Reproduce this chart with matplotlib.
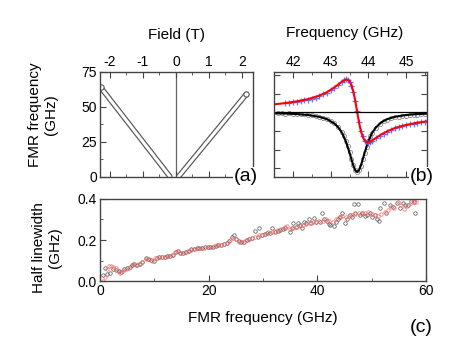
import matplotlib.pyplot as plt
from matplotlib.ticker import MultipleLocator

plt.rcParams['font.family'] = ['Liberation Sans', 'DejaVu Sans']

# ---- (a) FMR frequency vs field ----
field_neg = [-0.18, -0.23, -0.28, -0.33, -0.38, -0.43, -0.48, -0.53, -0.58, -0.63,
             -0.68, -0.73, -0.78, -0.83, -0.88, -0.93, -0.98, -1.03, -1.08, -1.13,
             -1.18, -1.23, -1.28, -1.33, -1.38, -1.43, -1.48, -1.53, -1.58, -1.63,
             -1.68, -1.73, -1.78, -1.83, -1.88, -1.93, -1.98, -2.03, -2.08, -2.13,
             -2.18, -2.23, -2.28]
freq_neg = [0.3, 1.8, 3.3, 4.8, 6.4, 7.9, 9.4, 10.9, 12.4, 13.9,
            15.5, 17.0, 18.5, 20.0, 21.5, 23.0, 24.5, 26.1, 27.6, 29.1,
            30.6, 32.1, 33.6, 35.1, 36.7, 38.2, 39.7, 41.2, 42.7, 44.2,
            45.8, 47.3, 48.8, 50.3, 51.8, 53.3, 54.8, 56.4, 57.9, 59.4,
            60.9, 62.4, 63.9]
field_pos = [0.08, 0.13, 0.18, 0.23, 0.28, 0.33, 0.38, 0.43, 0.48, 0.53,
             0.58, 0.63, 0.68, 0.73, 0.78, 0.83, 0.88, 0.93, 0.98, 1.03,
             1.08, 1.13, 1.18, 1.23, 1.28, 1.33, 1.38, 1.43, 1.48, 1.53,
             1.58, 1.63, 1.68, 1.73, 1.78, 1.83, 1.88, 1.93, 1.98, 2.03,
             2.08, 2.13]
freq_pos = [0.3, 1.7, 3.1, 4.6, 6.0, 7.4, 8.9, 10.3, 11.7, 13.2,
            14.6, 16.0, 17.4, 18.9, 20.3, 21.7, 23.2, 24.6, 26.0, 27.5,
            28.9, 30.3, 31.7, 33.2, 34.6, 36.0, 37.5, 38.9, 40.3, 41.8,
            43.2, 44.6, 46.0, 47.5, 48.9, 50.3, 51.8, 53.2, 54.6, 56.1,
            57.5, 58.9]

# ---- (b) spectra ----
fit_f_red = [41.5, 41.8, 42.1, 42.4, 42.7, 42.9, 43.1, 43.2, 43.3, 43.4, 43.45,
             43.5, 43.55, 43.6, 43.65, 43.7, 43.75, 43.8, 43.85, 43.9, 43.95,
             44.0, 44.1, 44.2, 44.35, 44.5, 44.7, 44.9, 45.1, 45.3, 45.55]
fit_red = [0.42, 0.49, 0.58, 0.70, 0.89, 1.07, 1.33, 1.48, 1.64, 1.75, 1.74,
           1.66, 1.46, 1.11, 0.62, 0.03, -0.54, -1.01, -1.33, -1.51, -1.59,
           -1.60, -1.51, -1.38, -1.18, -1.02, -0.85, -0.73, -0.64, -0.56, -0.49]
fit_f_blk = [41.5, 41.8, 42.1, 42.4, 42.7, 42.9, 43.1, 43.2, 43.3, 43.4, 43.5,
             43.55, 43.6, 43.65, 43.7, 43.75, 43.8, 43.85, 43.9, 44.0, 44.1,
             44.2, 44.35, 44.5, 44.7, 44.9, 45.1, 45.3, 45.55]
fit_blk = [-0.06, -0.07, -0.10, -0.15, -0.25, -0.37, -0.61, -0.81, -1.10, -1.55, -2.17,
           -2.52, -2.86, -3.11, -3.20, -3.11, -2.86, -2.52, -2.17, -1.55, -1.10,
           -0.81, -0.53, -0.37, -0.25, -0.18, -0.13, -0.10, -0.08]

blue_f = [41.8, 41.9, 42.0, 42.1, 42.2, 42.3, 42.4, 42.5, 42.6, 42.7, 42.8, 42.9,
          43.0, 43.1, 43.2, 43.3, 43.35, 43.4, 43.45, 43.5, 43.55, 43.6, 43.65,
          43.7, 43.75, 43.8, 43.85, 43.9, 43.95, 44.0, 44.05, 44.1, 44.2, 44.3,
          44.4, 44.5, 44.6, 44.7, 44.8, 44.9, 45.0, 45.1, 45.2, 45.3, 45.4, 45.5]
blue_v = [0.47, 0.50, 0.52, 0.56, 0.60, 0.63, 0.68, 0.73, 0.78, 0.86, 0.95, 1.05,
          1.17, 1.31, 1.47, 1.63, 1.70, 1.76, 1.74, 1.64, 1.42, 1.08, 0.60,
          0.05, -0.50, -1.00, -1.30, -1.52, -1.60, -1.63, -1.58, -1.53, -1.40, -1.28,
          -1.15, -1.05, -0.96, -0.87, -0.80, -0.75, -0.69, -0.65, -0.61, -0.57, -0.54, -0.51]
gray_f = [41.6, 41.7, 41.8, 41.9, 42.0, 42.1, 42.2, 42.3, 42.4, 42.5, 42.6, 42.7,
          42.8, 42.9, 43.0, 43.1, 43.2, 43.3, 43.35, 43.4, 43.45, 43.5, 43.55, 43.6,
          43.65, 43.7, 43.75, 43.8, 43.85, 43.9, 43.95, 44.0, 44.05, 44.1, 44.2, 44.3,
          44.4, 44.5, 44.6, 44.7, 44.8, 44.9, 45.0, 45.1, 45.2, 45.3, 45.4, 45.5]
gray_v = [-0.05, -0.06, -0.07, -0.06, -0.08, -0.09, -0.10, -0.12, -0.14, -0.17, -0.20, -0.24,
          -0.29, -0.36, -0.46, -0.59, -0.78, -1.08, -1.28, -1.52, -1.82, -2.14, -2.50, -2.84,
          -3.10, -3.22, -3.12, -2.87, -2.52, -2.16, -1.84, -1.54, -1.30, -1.10, -0.82, -0.62,
          -0.49, -0.40, -0.33, -0.28, -0.24, -0.21, -0.18, -0.16, -0.15, -0.13, -0.12, -0.11]

# ---- (c) half linewidth vs FMR frequency ----
lw_f_blk = [0.55, 0.9, 1.2, 1.8, 2.3, 3.0, 3.5, 3.9, 4.4, 5.0, 5.5, 5.9, 6.3, 6.8, 7.3,
            7.8, 8.4, 8.9, 9.4, 9.9, 10.4, 10.9, 11.4, 11.9, 12.4, 12.9, 13.4, 13.9, 14.3,
            14.8, 15.3, 15.8, 16.3, 16.8, 17.3, 17.8, 18.3, 18.8, 19.3, 19.8, 20.3, 20.8,
            21.3, 21.8, 22.3, 22.8, 23.3, 23.8, 24.3, 24.6, 25.0, 25.5, 26.0, 26.5, 27.0,
            27.5, 28.0, 28.5, 29.0, 29.3, 29.8, 30.3, 30.8, 31.3, 31.6, 32.2, 32.7, 33.1,
            33.6, 34.1, 35.0, 35.3, 35.6, 36.0, 36.4, 36.8, 37.1, 37.5, 37.9, 38.4, 38.9,
            39.3, 39.8, 40.5, 40.8, 41.2, 41.7, 42.1, 42.4, 43.0, 43.4, 43.8, 44.2, 44.6,
            45.1, 45.5, 46.0, 46.4, 46.7, 47.0, 47.4, 47.8, 48.2, 48.7, 49.1, 49.7, 50.1,
            50.6, 51.0, 51.3, 51.6, 52.2, 52.7, 53.4, 54.0, 54.6, 55.2, 55.7, 56.2, 56.7,
            57.3, 57.8, 58.0]
lw_blk = [0.030, 0.062, 0.036, 0.037, 0.060, 0.054, 0.050, 0.045, 0.058, 0.065, 0.070, 0.080,
          0.085, 0.078, 0.085, 0.095, 0.110, 0.108, 0.102, 0.100, 0.114, 0.116, 0.118, 0.117,
          0.120, 0.122, 0.128, 0.140, 0.146, 0.136, 0.135, 0.142, 0.148, 0.155, 0.157, 0.160,
          0.160, 0.162, 0.164, 0.165, 0.166, 0.168, 0.172, 0.175, 0.178, 0.180, 0.184, 0.195,
          0.215, 0.222, 0.205, 0.195, 0.188, 0.190, 0.200, 0.206, 0.210, 0.244, 0.215, 0.257,
          0.224, 0.230, 0.233, 0.235, 0.257, 0.237, 0.242, 0.249, 0.252, 0.260, 0.240, 0.260,
          0.281, 0.265, 0.281, 0.275, 0.257, 0.290, 0.283, 0.300, 0.285, 0.306, 0.290, 0.290,
          0.333, 0.300, 0.294, 0.280, 0.273, 0.270, 0.290, 0.300, 0.310, 0.330, 0.281, 0.300,
          0.322, 0.310, 0.376, 0.330, 0.376, 0.320, 0.330, 0.315, 0.322, 0.330, 0.310, 0.322,
          0.300, 0.295, 0.355, 0.379, 0.330, 0.371, 0.360, 0.379, 0.355, 0.379, 0.370, 0.371,
          0.390, 0.385, 0.330]
lw_f_red = [0.6, 0.9, 1.3, 1.6, 2.0, 2.4, 2.9, 3.3, 3.7, 4.2, 4.8, 5.4, 6.0, 6.6, 7.2, 7.8,
            8.4, 9.0, 9.6, 10.2, 10.8, 11.4, 12.0, 12.6, 13.2, 13.8, 14.4, 15.0, 15.6, 16.2,
            16.8, 17.4, 18.0, 18.6, 19.2, 19.8, 20.4, 21.0, 21.6, 22.2, 22.8, 23.4, 24.0,
            24.5, 25.0, 25.6, 26.2, 26.8, 27.4, 28.0, 28.6, 29.2, 29.8, 30.4, 31.0, 31.6,
            32.2, 32.8, 33.4, 34.0, 34.5, 35.0, 35.6, 36.2, 36.8, 37.4, 38.0, 38.6, 39.2,
            39.8, 40.4, 41.0, 41.6, 42.2, 42.8, 43.4, 44.0, 44.6, 45.2, 45.8, 46.4, 47.0,
            47.6, 48.2, 48.8, 49.4, 50.0, 50.6, 51.2, 51.8, 52.4, 53.0, 53.6, 54.2, 54.8,
            55.4, 56.0, 56.6, 57.2, 57.8, 58.2]
lw_red = [0.000, 0.020, 0.060, 0.073, 0.075, 0.070, 0.062, 0.050, 0.040, 0.048, 0.058, 0.066,
          0.082, 0.080, 0.083, 0.095, 0.108, 0.106, 0.100, 0.113, 0.118, 0.117, 0.118, 0.122,
          0.126, 0.140, 0.145, 0.137, 0.142, 0.147, 0.153, 0.157, 0.160, 0.161, 0.163, 0.165,
          0.168, 0.171, 0.174, 0.177, 0.180, 0.186, 0.200, 0.212, 0.205, 0.192, 0.190, 0.198,
          0.205, 0.210, 0.215, 0.222, 0.226, 0.230, 0.238, 0.240, 0.244, 0.250, 0.255, 0.262,
          0.268, 0.255, 0.258, 0.262, 0.270, 0.275, 0.280, 0.283, 0.288, 0.290, 0.293, 0.295,
          0.300, 0.295, 0.290, 0.300, 0.310, 0.318, 0.310, 0.315, 0.320, 0.325, 0.330, 0.328,
          0.330, 0.335, 0.328, 0.320, 0.318, 0.325, 0.335, 0.345, 0.360, 0.355, 0.385, 0.370,
          0.350, 0.365, 0.380, 0.390, 0.385]

spine_c = '#444444'
fig = plt.figure(figsize=(4.63, 3.54), dpi=100)


def style(ax):
    for s in ax.spines.values():
        s.set_color(spine_c)
        s.set_linewidth(1.0)
    ax.tick_params(which='both', direction='in', color=spine_c, labelsize=10, pad=2)
    ax.tick_params(which='major', length=4)
    ax.tick_params(which='minor', length=2.5)


def band(ax, x, y):
    # densely packed open markers look like a hollow band
    ax.plot(x, y, '-', color='#555555', lw=3.9, solid_capstyle='round')
    ax.plot(x, y, '-', color='white', lw=2.2, solid_capstyle='round')
    ax.plot(x[-1:], y[-1:], 'o', ms=3.8, mfc='white', mec='#555555', mew=0.8)


# (a)
axa = fig.add_axes([0.216, 0.5, 0.330, 0.297])
style(axa)
axa.axvline(0, color='#666666', lw=0.9, zorder=1)
band(axa, field_neg, freq_neg)
band(axa, field_pos, freq_pos)
axa.set_xlim(-2.3, 2.33)
axa.set_ylim(0, 75)
axa.xaxis.set_major_locator(MultipleLocator(1))
axa.xaxis.set_minor_locator(MultipleLocator(0.5))
axa.yaxis.set_major_locator(MultipleLocator(25))
axa.yaxis.set_minor_locator(MultipleLocator(12.5))
axa.tick_params(which='both', top=True, bottom=True, labeltop=True, labelbottom=False,
                right=False)
axa.set_xticks([-2, -1, 0, 1, 2])
axa.set_xticklabels(['-2', '-1', '0', '1', '2'])

# (b)
axb = fig.add_axes([0.592, 0.5, 0.330, 0.297])
style(axb)
axb.plot(gray_f, gray_v, 'o', ms=3.0, mfc='none', mec='#8a8a8a', mew=0.6)
axb.plot(fit_f_blk, fit_blk, color='black', lw=1.5)
axb.plot(blue_f, blue_v, '+', ms=4.0, color='#4455ff', mew=0.9, alpha=0.8)
axb.plot(fit_f_red, fit_red, color='red', lw=1.5)
axb.axhline(0, color='black', lw=0.9)
axb.set_xlim(41.5, 45.55)
axb.set_ylim(-3.47, 2.16)
axb.xaxis.set_major_locator(MultipleLocator(1))
axb.xaxis.set_minor_locator(MultipleLocator(0.5))
axb.yaxis.set_major_locator(MultipleLocator(1))
axb.tick_params(which='both', top=True, bottom=True, left=True, right=True,
                labeltop=True, labelbottom=False, labelleft=False)

# (c)
axc = fig.add_axes([0.216, 0.206, 0.704, 0.232])
style(axc)
axc.plot(lw_f_blk, lw_blk, 'o', ms=2.5, mfc='none', mec='#505050', mew=0.5)
axc.plot(lw_f_red, lw_red, 'o', ms=2.5, mfc='none', mec='#ff6a6a', mew=0.5)
axc.set_xlim(0, 60)
axc.set_ylim(0, 0.4)
axc.xaxis.set_major_locator(MultipleLocator(20))
axc.xaxis.set_minor_locator(MultipleLocator(10))
axc.yaxis.set_major_locator(MultipleLocator(0.2))
axc.yaxis.set_minor_locator(MultipleLocator(0.1))
axc.set_yticks([0, 0.2, 0.4])
axc.set_yticklabels(['0.0', '0.2', '0.4'])

# labels
fig.text(176 / 463, 1 - 35 / 354, 'Field (T)', ha='center', va='center', fontsize=11)
fig.text(345 / 463, 1 - 33 / 354, 'Frequency (GHz)', ha='center', va='center', fontsize=11)
fig.text(43 / 463, 1 - 115 / 354, 'FMR frequency\n(GHz)', ha='center', va='center',
         rotation=90, fontsize=11, multialignment='center', linespacing=1.1)
fig.text(47 / 463, 1 - 248 / 354, 'Half linewidth\n(GHz)', ha='center', va='center',
         rotation=90, fontsize=11, multialignment='center', linespacing=1.1)
fig.text(263 / 463, 1 - 318 / 354, 'FMR frequency (GHz)', ha='center', va='center', fontsize=11)
box = dict(facecolor='white', edgecolor='none', pad=0.5)
fig.text(246 / 463, 1 - 176 / 354, '(a)', ha='center', va='center', fontsize=14, bbox=box)
fig.text(422 / 463, 1 - 176 / 354, '(b)', ha='center', va='center', fontsize=14, bbox=box)
fig.text(421 / 463, 1 - 328 / 354, '(c)', ha='center', va='center', fontsize=14)

fig.savefig('out.png', dpi=100)
